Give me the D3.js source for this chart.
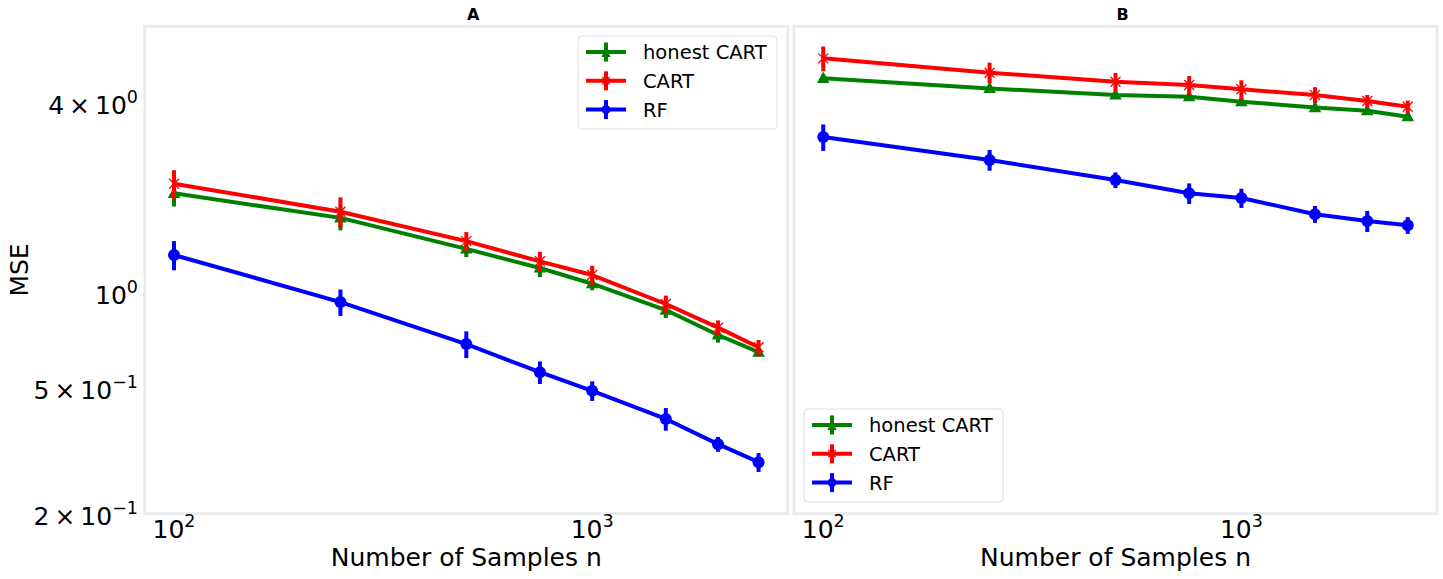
<!DOCTYPE html>
<html>
<head>
<meta charset="utf-8">
<script src="https://cdn.jsdelivr.net/npm/d3@7"></script>
<style>
  html, body { margin: 0; padding: 0; background: #fff; }
  svg { display: block; font-family: "DejaVu Sans", sans-serif; }
</style>
</head>
<body>
<svg id="chart" width="1443" height="579"></svg>
<script>
// ---------- data ----------
const sampleSizes = [100, 250, 500, 750, 1000, 1500, 2000, 2500];
const seriesNames = ["honest CART", "CART", "RF"];

// Panel A
const honestA    = [2.07, 1.73, 1.38, 1.20, 1.07, 0.883, 0.736, 0.650];
const honestAErr = [0.19, 0.15, 0.08, 0.077, 0.05, 0.05, 0.04, 0.02];
const cartA      = [2.22, 1.81, 1.46, 1.26, 1.14, 0.923, 0.777, 0.673];
const cartAErr   = [0.23, 0.20, 0.10, 0.09, 0.08, 0.058, 0.042, 0.037];
const rfA        = [1.32, 0.936, 0.689, 0.561, 0.49, 0.399, 0.332, 0.291];
const rfAErr     = [0.14, 0.09, 0.067, 0.046, 0.035, 0.033, 0.018, 0.02];

// Panel B
const honestB    = [4.79, 4.45, 4.24, 4.19, 4.04, 3.87, 3.78, 3.62];
const honestBErr = [0.15, 0.10, 0.08, 0.08, 0.08, 0.08, 0.08, 0.08];
const cartB      = [5.54, 4.99, 4.67, 4.56, 4.42, 4.24, 4.06, 3.89];
const cartBErr   = [0.50, 0.38, 0.31, 0.31, 0.30, 0.25, 0.18, 0.18];
const rfB        = [3.12, 2.64, 2.28, 2.07, 2.00, 1.777, 1.69, 1.64];
const rfBErr     = [0.30, 0.20, 0.13, 0.155, 0.14, 0.11, 0.13, 0.10];

// tick labels
const yTicks = [
  {v: 4,   mant: "4", exp: "0"},
  {v: 1,   mant: null, exp: "0"},
  {v: 0.5, mant: "5", exp: "\u22121"},
  {v: 0.2, mant: "2", exp: "\u22121"}
];
const xTicks = [{v: 100, exp: "2"}, {v: 1000, exp: "3"}];
const yLimits = [0.2, 7];

// ---------- styling / layout ----------
const colors = {"honest CART": "#008000", "CART": "#ff0000", "RF": "#0000ff"};
const markers = {"honest CART": "triangle", "CART": "x", "RF": "circle"};
const plotTop = 26.3, plotH = 487.3, plotW = 643;
const panels = [
  {title: "A", left: 144.8, data: [honestA, cartA, rfA], err: [honestAErr, cartAErr, rfAErr],
   legend: {x: 578, y: 36}, showY: true},
  {title: "B", left: 794, data: [honestB, cartB, rfB], err: [honestBErr, cartBErr, rfBErr],
   legend: {x: 804, y: 409}, showY: false}
];

const svg = d3.select("#chart");
const lx0 = Math.log10(sampleSizes[0]), lx1 = Math.log10(sampleSizes[sampleSizes.length - 1]);
const pad = 0.05 * (lx1 - lx0);
const xDomain = [Math.pow(10, lx0 - pad), Math.pow(10, lx1 + pad)];
const y = d3.scaleLog().domain(yLimits).range([plotTop + plotH, plotTop]);

function drawMarker(g, type, cx, cy, color, s) {
  if (type === "triangle") {
    const w = 12.5 * s, h = 11.5 * s;
    g.append("path")
      .attr("d", `M${cx},${cy - h * 0.6} L${cx + w / 2},${cy + h * 0.4} L${cx - w / 2},${cy + h * 0.4} Z`)
      .attr("fill", color);
  } else if (type === "circle") {
    g.append("circle").attr("cx", cx).attr("cy", cy).attr("r", 6 * s).attr("fill", color);
  } else {
    const r = 5 * s;
    g.append("path")
      .attr("d", `M${cx - r},${cy - r} L${cx + r},${cy + r} M${cx - r},${cy + r} L${cx + r},${cy - r}`)
      .attr("stroke", color).attr("stroke-width", 1.3).attr("fill", "none");
  }
}

panels.forEach(p => {
  const x = d3.scaleLog().domain(xDomain).range([p.left, p.left + plotW]);
  const g = svg.append("g");

  // frame
  g.append("rect").attr("x", p.left).attr("y", plotTop).attr("width", plotW).attr("height", plotH)
    .attr("fill", "none").attr("stroke", "#ebebeb").attr("stroke-width", 3);

  // title
  g.append("text").attr("x", p.left + plotW / 2 + 7).attr("y", 19.5)
    .attr("text-anchor", "middle").attr("font-size", 16).attr("font-weight", "bold").text(p.title);

  // x ticks
  xTicks.forEach(t => {
    const tx = g.append("text").attr("x", x(t.v)).attr("y", 538)
      .attr("text-anchor", "middle").attr("font-size", 25);
    tx.append("tspan").text("10");
    tx.append("tspan").attr("dy", -11).attr("font-size", 17.5).text(t.exp);
  });

  // x label
  g.append("text").attr("x", p.left + plotW / 2).attr("y", 566)
    .attr("text-anchor", "middle").attr("font-size", 25).text("Number of Samples n");

  // y ticks
  if (p.showY) {
    yTicks.forEach(t => {
      const tx = g.append("text").attr("x", 138).attr("y", y(t.v) + 11)
        .attr("text-anchor", "end").attr("font-size", 25);
      tx.append("tspan").text(t.mant ? t.mant + "\u2009\u00d7\u200910" : "10");
      tx.append("tspan").attr("dy", -11).attr("font-size", 17.5).text(t.exp);
    });
    g.append("text").attr("transform", `translate(28,${plotTop + plotH / 2}) rotate(-90)`)
      .attr("text-anchor", "middle").attr("font-size", 25).text("MSE");
  }

  // series
  seriesNames.forEach((name, si) => {
    const vals = p.data[si], errs = p.err[si], col = colors[name];
    const pts = sampleSizes.map((n, i) => ({n, v: vals[i], e: errs[i]}));
    const sg = g.append("g");
    sg.selectAll("line.err").data(pts).enter().append("line")
      .attr("x1", d => x(d.n)).attr("x2", d => x(d.n))
      .attr("y1", d => y(d.v - d.e)).attr("y2", d => y(d.v + d.e))
      .attr("stroke", col).attr("stroke-width", 4);
    sg.append("path").datum(pts)
      .attr("d", d3.line().x(d => x(d.n)).y(d => y(d.v)))
      .attr("fill", "none").attr("stroke", col).attr("stroke-width", 4)
      .attr("stroke-linejoin", "round");
    pts.forEach(d => drawMarker(sg, markers[name], x(d.n), y(d.v), col, 1));
  });

  // legend
  const L = g.append("g").attr("transform", `translate(${p.legend.x},${p.legend.y})`);
  L.append("rect").attr("x", 0).attr("y", 0).attr("width", 199).attr("height", 93).attr("rx", 4)
    .attr("fill", "#fff").attr("fill-opacity", 0.8).attr("stroke", "#dcdcdc").attr("stroke-width", 1);
  seriesNames.forEach((name, i) => {
    const cy = 16 + i * 28.8, col = colors[name];
    L.append("line").attr("x1", 8).attr("x2", 48).attr("y1", cy).attr("y2", cy)
      .attr("stroke", col).attr("stroke-width", 4);
    L.append("line").attr("x1", 28).attr("x2", 28).attr("y1", cy - 9.5).attr("y2", cy + 9.5)
      .attr("stroke", col).attr("stroke-width", 4);
    drawMarker(L, markers[name], 28, cy + (name === "honest CART" ? 1.5 : 0), col, 0.75);
    L.append("text").attr("x", 65).attr("y", cy + 7).attr("font-size", 19.5).text(name);
  });
});
</script>
</body>
</html>
